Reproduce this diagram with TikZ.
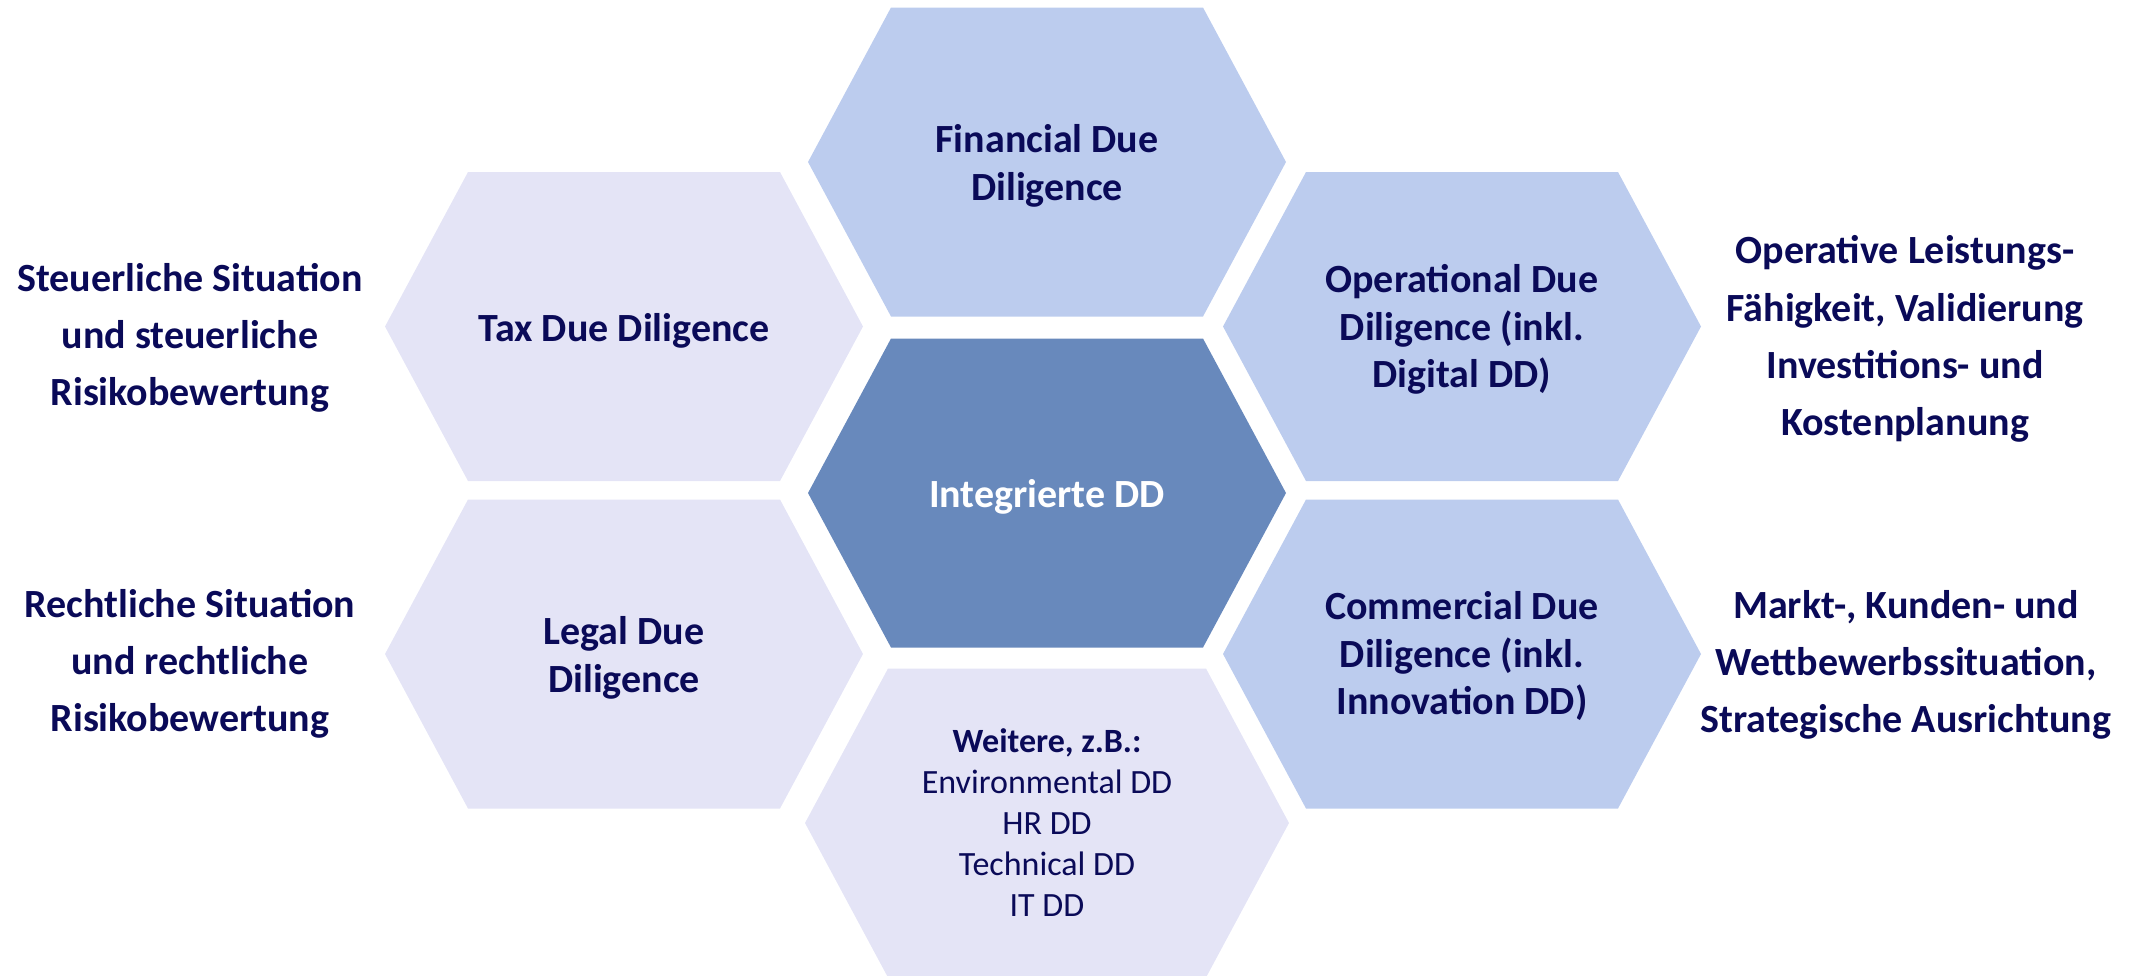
\documentclass[tikz,border=0pt]{standalone}
\usepackage{fontspec}
\setmainfont{Carlito}
\usepackage{tikz}
\usepackage{xcolor}
\definecolor{ColLight}{RGB}{228,228,246}
\definecolor{ColBlue}{RGB}{188,204,238}
\definecolor{ColCore}{RGB}{104,137,188}
\definecolor{ColText}{RGB}{10,10,88}
\tikzstyle{HexText}=[text=ColText,align=center,inner sep=0pt,
font=\bfseries\fontsize{20}{23.8}\selectfont]
\tikzstyle{CoreText}=[HexText,text=white]
\tikzstyle{SideText}=[HexText,font=\bfseries\fontsize{20}{28.6}\selectfont]
\tikzstyle{MoreText}=[HexText,font=\fontsize{17}{20.5}\selectfont]
% hexagon: centre x, centre y, half width, fill
\newcommand{\HexCell}[4]{\fill[#4](#1,#2)++(-#3,0)--++(83,-154.5)--++({2*#3-166},0)
  --++(83,154.5)--++(-83,154.5)--++({166-2*#3},0)--cycle;}
\begin{document}
\begin{tikzpicture}[x=0.5pt,y=-0.5pt]
        \useasboundingbox(0,0)rectangle(2132,975);
        \HexCell{1047}{162}{239}{ColBlue}
        \HexCell{624}{326.5}{239}{ColLight}
        \HexCell{1462}{326.5}{239}{ColBlue}
        \HexCell{1047}{493}{239}{ColCore}
        \HexCell{624}{654}{239}{ColLight}
        \HexCell{1462}{654}{239}{ColBlue}
        \HexCell{1047}{823}{242}{ColLight}
        \node[HexText](fin)at(1047,166){Financial Due\\Diligence};
        \node[HexText](tax)at(624,331){Tax Due Diligence};
        \node[HexText](ops)at(1462,329.5){Operational Due\\Diligence (inkl.\\Digital DD)};
        \node[CoreText](core)at(1047,497){Integrierte DD};
        \node[HexText](legal)at(624,658){Legal Due\\Diligence};
        \node[HexText](com)at(1462,656){Commercial Due\\Diligence (inkl.\\Innovation DD)};
        \node[MoreText](more)at(1047,823){\textbf{Weitere, z.B.:}\\Environmental DD\\HR DD\\Technical DD\\IT DD};
        \node[SideText](taxnote)at(190,338){Steuerliche Situation\\und steuerliche\\Risikobewertung};
        \node[SideText](legalnote)at(190,664){Rechtliche Situation\\und rechtliche\\Risikobewertung};
        \node[SideText](opsnote)at(1905,339){Operative Leistungs-\\Fähigkeit, Validierung\\Investitions- und\\Kostenplanung};
        \node[SideText](comnote)at(1906,665){Markt-, Kunden- und\\Wettbewerbssituation,\\Strategische Ausrichtung};
    \end{tikzpicture}
\end{document}
